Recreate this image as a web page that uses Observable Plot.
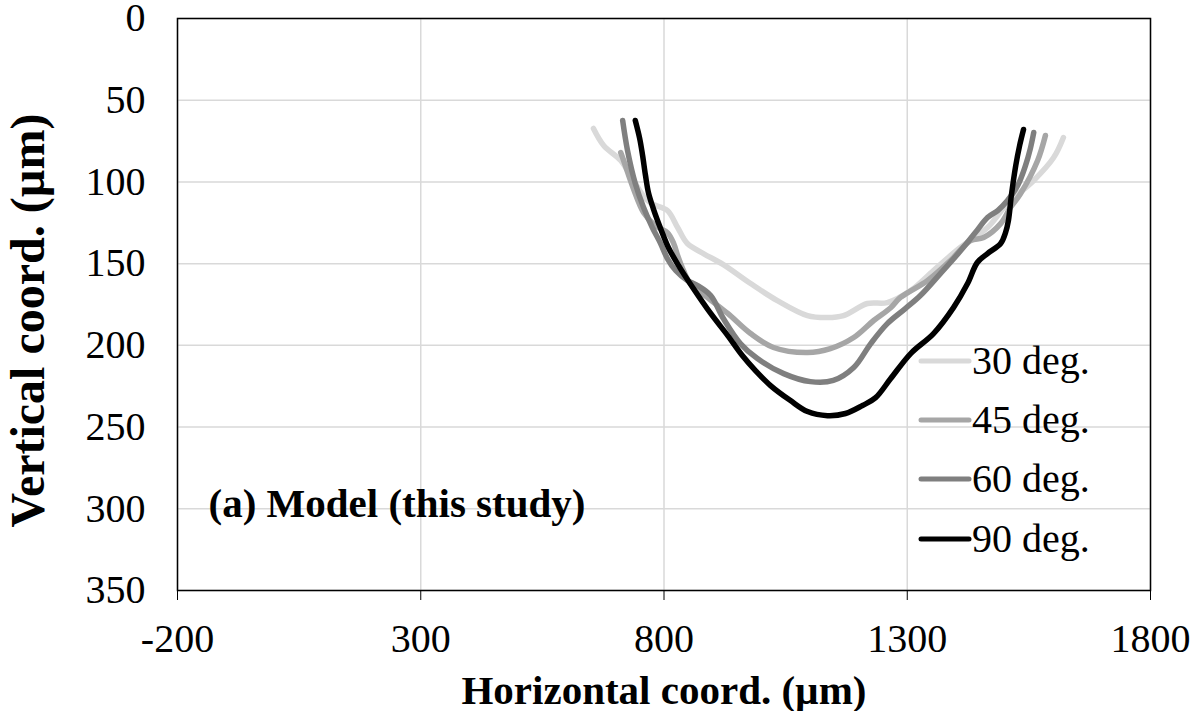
<!DOCTYPE html>
<html><head><meta charset="utf-8">
<script src="https://cdn.jsdelivr.net/npm/d3@7"></script>
<script src="https://cdn.jsdelivr.net/npm/@observablehq/plot@0.6"></script>
<style>
body{margin:0;background:#fff;}
#wrap{position:relative;width:1195px;height:711px;font-family:"Liberation Serif","Times New Roman",serif;}
#legend{position:absolute;left:918px;top:331px;}
.row{display:flex;align-items:center;height:59.3px;}
.row svg{width:54px;height:10px;display:block;}
.row span{font-size:40px;line-height:1;margin-left:0px;}
</style></head><body><div id="wrap"></div>
<script>
const categories = ["30 deg.", "45 deg.", "60 deg.", "90 deg."];
const colors = ["#d9d9d9", "#a6a6a6", "#7f7f7f", "#000000"];
const xTicks = [-200, 300, 800, 1300, 1800];
const yTicks = [0, 50, 100, 150, 200, 250, 300, 350];
const xLabel = "Horizontal coord. (µm)";
const yLabel = "Vertical coord. (µm)";
const note = "(a) Model (this study)";

const x30 = [655,676,711,737,762,778,807,828,848,881,922,978,1033,1095,1136,1169,1218,1259,1307,1354,1409,1465,1506,1560,1601,1621];
const y30 = [67.3,77.7,86.9,99.1,110.2,113.8,117.5,127.9,137.7,143.8,150.6,162.2,172.6,181.8,183,181.8,174.4,173.8,166.5,154.2,140.1,127.9,113.2,99.1,85.1,72.8];

const x45 = [711,717,737,758,782,807,820,828,840,854,889,931,978,1025,1095,1142,1190,1231,1266,1286,1342,1389,1430,1457,1492,1512,1533,1568,1584];
const y45 = [82,86.9,104,118.7,126.7,131,137.7,145,154.2,162.2,170.7,180.5,192.8,201.3,204.4,202,195.2,184.8,177,170.7,160.3,148.1,135.9,134,125.5,115.7,107.1,86.9,71.6];

const x60 = [715,725,741,758,776,793,807,824,848,869,896,922,957,992,1046,1101,1148,1190,1225,1259,1296,1327,1368,1410,1440,1465,1486,1506,1527,1543,1553,1560];
const y60 = [62.4,80.8,101,115.7,127.9,137.7,146.9,154.2,160.3,163.4,169.5,183.6,198.9,208.1,217.3,222.2,221.5,213.6,198.9,186.7,177.5,169.5,156.1,142,131,121.8,117.5,111.4,102.2,90,79.6,69.8];

const x90 = [741,750,756,762,768,778,793,809,830,859,896,931,961,988,1019,1060,1095,1136,1173,1208,1235,1266,1307,1354,1395,1424,1444,1465,1492,1502,1508,1514,1523,1531,1539];
const y90 = [62.4,73.4,83.8,96.1,106.5,116.3,128.5,140.1,151.2,164.6,180.5,194,206.2,215.4,224.6,233.8,240.5,243,241.7,236.8,232,220.3,205,192.8,176.9,162.2,149.3,143.8,137.7,131,123.6,108.3,90,77.7,67.9];

const series = [[x30, y30], [x45, y45], [x60, y60], [x90, y90]];
const rows = series.flatMap(([xs, ys], i) => xs.map((x, j) => ({series: categories[i], x, y: ys[j]})));

const chart = Plot.plot({
  width: 1195, height: 711,
  marginLeft: 177, marginRight: 45, marginTop: 18, marginBottom: 121,
  style: {fontFamily: "'Liberation Serif','Times New Roman',serif", fontSize: "40px", color: "#000", background: "#fff", overflow: "visible"},
  x: {domain: [-200, 1800]},
  y: {domain: [0, 350], reverse: true},
  color: {domain: categories, range: colors},
  marks: [
    Plot.gridX(xTicks, {stroke: "#d9d9d9", strokeOpacity: 1, strokeWidth: 1.5}),
    Plot.gridY(yTicks, {stroke: "#d9d9d9", strokeOpacity: 1, strokeWidth: 1.5}),
    Plot.line(rows, {x: "x", y: "y", z: "series", stroke: "series", strokeWidth: 5.5, curve: "catmull-rom", strokeLinecap: "round", strokeLinejoin: "round"}),
    Plot.frame({stroke: "#000", strokeWidth: 1.5}),
    Plot.axisX(xTicks, {label: null, tickSize: 10, tickPadding: 23, fontSize: 40, stroke: "#000", tickFormat: d => String(d)}),
    Plot.axisY(yTicks, {label: null, tickSize: 0, tickPadding: 32, fontSize: 40, tickFormat: d => String(d)}),
    Plot.text([xLabel], {text: d => d, frameAnchor: "bottom", dy: 100, fontWeight: "bold", fontSize: 41, lineAnchor: "middle"}),
    Plot.text([yLabel], {text: d => d, frameAnchor: "left", dx: -149, dy: 16, rotate: -90, textAnchor: "middle", fontWeight: "bold", fontSize: 48, lineAnchor: "middle"}),
    Plot.text([note], {text: d => d, frameAnchor: "bottom-left", dx: 31, dy: -87, textAnchor: "start", fontWeight: "bold", fontSize: 41, lineAnchor: "middle"})
  ]
});
const wrap = document.getElementById("wrap");
wrap.appendChild(chart);

const legend = document.createElement("div");
legend.id = "legend";
categories.forEach((c, i) => {
  const row = document.createElement("div");
  row.className = "row";
  row.innerHTML = `<svg viewBox="0 0 54 10"><line x1="3" y1="5" x2="51" y2="5" stroke="${colors[i]}" stroke-width="5" stroke-linecap="round"/></svg><span>${c}</span>`;
  legend.appendChild(row);
});
wrap.appendChild(legend);
</script>
</body></html>
